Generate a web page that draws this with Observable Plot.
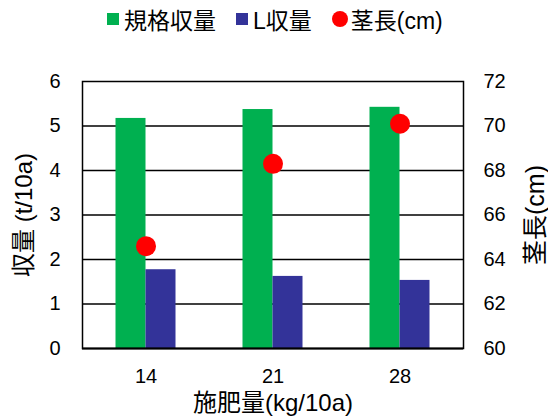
<!DOCTYPE html>
<html>
<head>
<meta charset="utf-8">
<script src="https://cdn.jsdelivr.net/npm/d3@7"></script>
<script src="https://cdn.jsdelivr.net/npm/@observablehq/plot@0.6"></script>
<style>
  html, body { margin: 0; padding: 0; background: #fff; }
  body { width: 548px; height: 418px; overflow: hidden; font-family: "Liberation Sans", Arial, "Noto Sans CJK JP", sans-serif; }
  #legend { height: 40px; display: flex; align-items: center; justify-content: flex-start; padding-left: 107px; font-size: 23px; color: #000; box-sizing: border-box; padding-bottom: 2px; }
  .item { display: flex; align-items: center; margin-right: 20px; }
  .sw { width: 12px; height: 12px; margin-right: 5px; }
  .circ { width: 16px; height: 16px; border-radius: 50%; margin-right: 3px; }
</style>
</head>
<body>
<div id="legend"></div>
<div id="chart"></div>
<script>
const categories = ["14", "21", "28"];
const seriesNames = ["規格収量", "L収量", "茎長(cm)"];
const standardYield = [5.17, 5.37, 5.42];
const lYield = [1.77, 1.62, 1.53];
const stemLength = [64.6, 68.3, 70.1];
const leftTicks = [0, 1, 2, 3, 4, 5, 6];
const rightTicks = [60, 62, 64, 66, 68, 70, 72];
const colors = ["#00B050", "#333399", "#FF0000"];

const font = '"Liberation Sans", Arial, "Noto Sans CJK JP", sans-serif';

// legend
const legend = document.getElementById("legend");
seriesNames.forEach((name, i) => {
  const it = document.createElement("div");
  it.className = "item";
  const sw = document.createElement("div");
  sw.className = i === 2 ? "circ" : "sw";
  sw.style.background = colors[i];
  it.appendChild(sw);
  const t = document.createElement("span");
  t.textContent = name;
  it.appendChild(t);
  legend.appendChild(it);
});

const green = categories.map((c, i) => ({cat: c, v: standardYield[i]}));
const blue = categories.map((c, i) => ({cat: c, v: lYield[i]}));
// map stem length (60–72) onto the left scale (0–6)
const toLeft = v => (v - 60) / 2;
const dots = categories.map((c, i) => ({cat: c, v: toLeft(stemLength[i])}));

const chart = Plot.plot({
  width: 548,
  height: 378,
  marginLeft: 82,
  marginRight: 85,
  marginTop: 41,
  marginBottom: 70,
  style: {fontFamily: font, fontSize: "20px", color: "#000", background: "#fff"},
  x: {domain: categories, padding: 0, axis: null},
  y: {domain: [0, 6], axis: null},
  marks: [
    Plot.ruleY(leftTicks.slice(1, -1), {stroke: "#000", strokeWidth: 1.5}),
    Plot.barY(green, {x: "cat", y: "v", fill: colors[0], insetLeft: 33.5, insetRight: 63.5}),
    Plot.barY(blue, {x: "cat", y: "v", fill: colors[1], insetLeft: 63.5, insetRight: 33.5}),
    Plot.frame({stroke: "#000", strokeWidth: 1.5}),
    Plot.ruleY([0], {stroke: "#000", strokeWidth: 2.2}),
    Plot.dot(dots, {x: "cat", y: "v", r: 10, fill: colors[2], stroke: "none"}),
    Plot.axisY(leftTicks, {anchor: "left", tickSize: 0, tickPadding: 22, label: null, fontSize: 20}),
    Plot.axisY(rightTicks.map(toLeft), {anchor: "right", tickSize: 0, tickPadding: 20, label: null, fontSize: 20, tickFormat: d => String(60 + 2 * d), textAnchor: "start"}),
    Plot.axisX(categories, {anchor: "bottom", tickSize: 0, tickPadding: 20, label: null, fontSize: 20}),
    Plot.text(["施肥量(kg/10a)"], {frameAnchor: "bottom", dy: 55, fontSize: 24, fill: "#000", textAnchor: "middle", lineAnchor: "middle"}),
    Plot.text(["収量 (t/10a)"], {frameAnchor: "left", dx: -58, rotate: -90, fontSize: 24, fill: "#000", textAnchor: "middle", lineAnchor: "middle"}),
    Plot.text(["茎長(cm)"], {frameAnchor: "right", dx: 72, rotate: -90, fontSize: 25, fill: "#000", textAnchor: "middle", lineAnchor: "middle"})
  ]
});
document.getElementById("chart").appendChild(chart);
</script>
</body>
</html>
